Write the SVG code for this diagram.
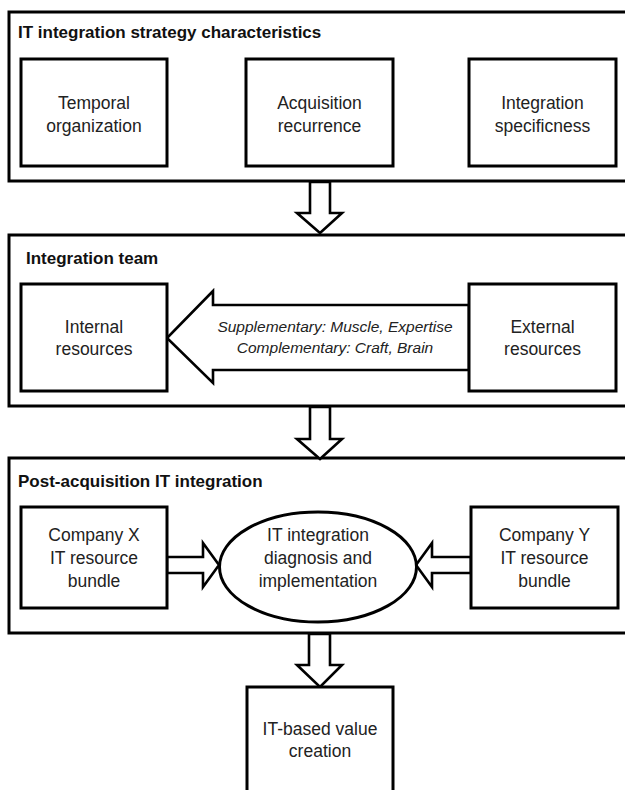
<svg xmlns="http://www.w3.org/2000/svg" width="625" height="790" viewBox="0 0 625 790">
<style>
.outer{fill:#fff;stroke:#000;stroke-width:3}
.box{fill:#fff;stroke:#000;stroke-width:3}
.arr{fill:#fff;stroke:#000;stroke-width:2.6;stroke-linejoin:miter}
.t{font-family:"Liberation Sans",Arial,sans-serif;font-size:17.5px;fill:#222;text-anchor:middle}
.h{font-family:"Liberation Sans",Arial,sans-serif;font-size:17px;font-weight:bold;fill:#111}
.i{font-family:"Liberation Sans",Arial,sans-serif;font-size:15.5px;font-style:italic;fill:#222;text-anchor:middle}
</style>
<rect width="625" height="790" fill="#fff"/>
<g id="panel-strategy">
<rect class="outer" x="9" y="12" width="640" height="169"/>
<text class="h" x="18" y="38">IT integration strategy characteristics</text>
</g>
<g id="panel-team">
<rect class="outer" x="9" y="235" width="640" height="171"/>
<text class="h" x="26" y="264">Integration team</text>
</g>
<g id="panel-post">
<rect class="outer" x="9" y="458" width="640" height="175"/>
<text class="h" x="18" y="487">Post-acquisition IT integration</text>
</g>
<g id="connectors">
<polygon class="arr" points="310,182 330,182 330,213 342,213 320,233 297,213 310,213"/>
<polygon class="arr" points="310,407 330,407 330,439 342,439 320,459 297,439 310,439"/>
<polygon class="arr" points="309,634 330,634 330,665 342,665 320,687 297,665 309,665"/>
<polygon class="arr" points="469,305 213,305 213,291 167,338 213,383 213,370 469,370"/>
<polygon class="arr" points="167,557 203,557 203,543 219,565 203,587 203,573 167,573"/>
<polygon class="arr" points="471,557 432,557 432,543 416,565 432,587 432,573 471,573"/>
</g>
<g id="temporal">
<rect class="box" x="21" y="59" width="146" height="107"/>
<text class="t" x="94" y="109">Temporal</text>
<text class="t" x="94" y="132">organization</text>
</g>
<g id="recurrence">
<rect class="box" x="246" y="59" width="147" height="107"/>
<text class="t" x="319.5" y="109">Acquisition</text>
<text class="t" x="319.5" y="132">recurrence</text>
</g>
<g id="specificness">
<rect class="box" x="469" y="59" width="147" height="107"/>
<text class="t" x="542.5" y="109">Integration</text>
<text class="t" x="542.5" y="132">specificness</text>
</g>
<g id="internal">
<rect class="box" x="21" y="284" width="146" height="107"/>
<text class="t" x="94" y="333">Internal</text>
<text class="t" x="94" y="355">resources</text>
</g>
<g id="external">
<rect class="box" x="469" y="284" width="147" height="107"/>
<text class="t" x="542.5" y="333">External</text>
<text class="t" x="542.5" y="355">resources</text>
</g>
<g id="arrow-label">
<text class="i" x="335" y="332">Supplementary: Muscle, Expertise</text>
<text class="i" x="335" y="353">Complementary: Craft, Brain</text>
</g>
<g id="company-x">
<rect class="box" x="21" y="507" width="146" height="101"/>
<text class="t" x="94" y="541">Company X</text>
<text class="t" x="94" y="564">IT resource</text>
<text class="t" x="94" y="587">bundle</text>
</g>
<g id="diagnosis">
<ellipse class="box" cx="318" cy="567" rx="98.5" ry="55"/>
<text class="t" x="318" y="541">IT integration</text>
<text class="t" x="318" y="564">diagnosis and</text>
<text class="t" x="318" y="587">implementation</text>
</g>
<g id="company-y">
<rect class="box" x="471" y="507" width="147" height="101"/>
<text class="t" x="544.5" y="541">Company Y</text>
<text class="t" x="544.5" y="564">IT resource</text>
<text class="t" x="544.5" y="587">bundle</text>
</g>
<g id="value">
<rect class="box" x="247" y="687" width="146" height="120"/>
<text class="t" x="320" y="735">IT-based value</text>
<text class="t" x="320" y="757">creation</text>
</g>
</svg>
